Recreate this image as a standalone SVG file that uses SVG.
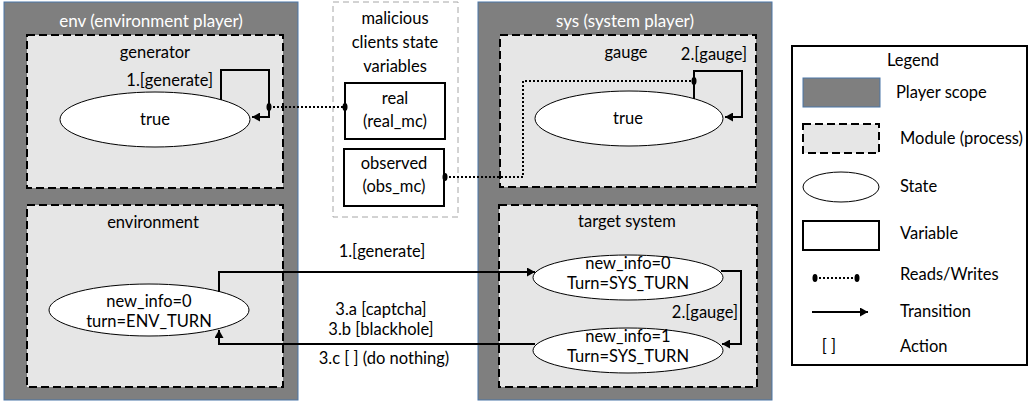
<svg xmlns="http://www.w3.org/2000/svg" width="1029" height="403" viewBox="0 0 1029 403">
  <style>
    text { font-family: Lato, "Liberation Sans", sans-serif; font-size: 16.5px; fill: #000; }
    .title { fill: #fff; font-size: 17px; }
    .mid { text-anchor: middle; }
    .end { text-anchor: end; }
    .player { fill: #7f7f7f; stroke: #4a76a8; stroke-width: 1; }
    .module { fill: #e6e6e6; stroke: #000; stroke-width: 2; stroke-dasharray: 8 4; }
    .group { fill: none; stroke: #a6a6a6; stroke-width: 1; stroke-dasharray: 6 4; }
    .state { fill: #fff; stroke: #000; stroke-width: 1; }
    .var { fill: #fff; stroke: #000; stroke-width: 2; }
    .trans { fill: none; stroke: #000; stroke-width: 2; marker-end: url(#arrow); }
    .rw { fill: none; stroke: #000; stroke-width: 2; stroke-dasharray: 2 2; }
    .dot { fill: #000; }
  </style>
  <defs>
    <marker id="arrow" markerUnits="userSpaceOnUse" markerWidth="9" markerHeight="9" refX="8" refY="4.5" orient="auto">
      <path d="M0,0 L8,4.5 L0,9 z" fill="#000"/>
    </marker>
  </defs>

  <!-- players -->
  <g id="env-player">
    <rect class="player" x="4" y="2" width="294" height="398"/>
    <text class="title mid" x="151" y="27">env (environment player)</text>
  </g>
  <g id="sys-player">
    <rect class="player" x="478" y="2" width="294" height="398"/>
    <text class="title mid" x="625" y="27">sys (system player)</text>
  </g>

  <!-- modules -->
  <g id="generator">
    <rect class="module" x="27" y="35" width="256" height="153"/>
    <text class="mid" x="155" y="58">generator</text>
    <ellipse class="state" cx="155" cy="119.5" rx="95" ry="27.5"/>
    <text class="mid" x="155" y="125">true</text>
  </g>
  <g id="environment">
    <rect class="module" x="27" y="205" width="256" height="182"/>
    <text class="mid" x="153" y="228">environment</text>
    <ellipse class="state" cx="149" cy="310" rx="100" ry="26"/>
    <text class="mid" x="149" y="307">new_info=0</text>
    <text class="mid" x="149" y="327">turn=ENV_TURN</text>
  </g>
  <g id="gauge">
    <rect class="module" x="500" y="35" width="256" height="152"/>
    <text class="mid" x="626" y="58">gauge</text>
    <ellipse class="state" cx="629" cy="118.5" rx="94" ry="27.5"/>
    <text class="mid" x="628" y="124">true</text>
  </g>
  <g id="target-system">
    <rect class="module" x="499" y="205" width="258" height="182"/>
    <text class="mid" x="627" y="227">target system</text>
    <g id="ts-state-0">
      <ellipse class="state" cx="628" cy="277.5" rx="95" ry="22.5"/>
      <text class="mid" x="628" y="269">new_info=0</text>
      <text class="mid" x="628" y="289">Turn=SYS_TURN</text>
    </g>
    <g id="ts-state-1">
      <ellipse class="state" cx="628" cy="350.5" rx="95" ry="22.5"/>
      <text class="mid" x="628" y="342">new_info=1</text>
      <text class="mid" x="628" y="362">Turn=SYS_TURN</text>
    </g>
  </g>

  <!-- shared variables -->
  <g id="mc-variables">
    <rect class="group" x="333" y="2" width="125" height="215"/>
    <text class="mid" x="395" y="24">malicious</text>
    <text class="mid" x="395" y="48">clients state</text>
    <text class="mid" x="395" y="72">variables</text>
    <g id="real-mc">
      <rect class="var" x="345" y="83" width="100" height="56"/>
      <text class="mid" x="395" y="104">real</text>
      <text class="mid" x="395" y="127">(real_mc)</text>
    </g>
    <g id="obs-mc">
      <rect class="var" x="344" y="149" width="100" height="57"/>
      <text class="mid" x="394" y="169">observed</text>
      <text class="mid" x="394" y="192">(obs_mc)</text>
    </g>
  </g>

  <!-- connectors -->
  <g id="connectors">
    <!-- self loop: generate -->
    <polyline class="trans" points="221,100 221,70 269,70 269,117 252,117"/>
    <text class="end" x="213" y="86">1.[generate]</text>
    <!-- self loop: gauge -->
    <polyline class="trans" points="694,99 694,71 742,71 742,117 725,117"/>
    <text class="end" x="747" y="60">2.[gauge]</text>
    <!-- reads / writes -->
    <line class="rw" x1="269" y1="107" x2="345" y2="107"/>
    <ellipse class="dot" cx="269" cy="107" rx="2.5" ry="4"/>
    <ellipse class="dot" cx="345" cy="107" rx="2.5" ry="4"/>
    <polyline class="rw" points="445,177 523,177 523,81 694,81"/>
    <ellipse class="dot" cx="445" cy="177" rx="2.5" ry="4"/>
    <ellipse class="dot" cx="694" cy="81" rx="2.5" ry="4"/>
    <!-- environment to target system -->
    <polyline class="trans" points="219,292 219,272 535,272"/>
    <text class="mid" x="382" y="257">1.[generate]</text>
    <!-- target system internal -->
    <polyline class="trans" points="721,271 741,271 741,344 722,344"/>
    <text class="end" x="738" y="318">2.[gauge]</text>
    <!-- target system back to environment -->
    <polyline class="trans" points="535,344 219,344 219,330"/>
    <text class="mid" x="381" y="315">3.a [captcha]</text>
    <text class="mid" x="381" y="335">3.b [blackhole]</text>
    <text class="mid" x="384" y="364">3.c [ ] (do nothing)</text>
  </g>

  <!-- legend -->
  <g id="legend">
    <rect x="792" y="46" width="235" height="319" fill="#fff" stroke="#000" stroke-width="2"/>
    <text class="mid" x="913" y="66">Legend</text>
    <rect class="player" x="803" y="78" width="77" height="29"/>
    <text x="896" y="98">Player scope</text>
    <rect class="module" x="803" y="124" width="76" height="29"/>
    <text x="900" y="144">Module (process)</text>
    <ellipse class="state" cx="841" cy="187" rx="38" ry="15"/>
    <text x="900" y="192">State</text>
    <rect class="var" x="803" y="221" width="76" height="29"/>
    <text x="900" y="239">Variable</text>
    <line class="rw" x1="815" y1="278" x2="857" y2="278"/>
    <ellipse class="dot" cx="815" cy="278" rx="2.5" ry="4"/>
    <ellipse class="dot" cx="857" cy="278" rx="2.5" ry="4"/>
    <text x="900" y="280">Reads/Writes</text>
    <line class="trans" x1="812" y1="312" x2="868" y2="312"/>
    <text x="900" y="317">Transition</text>
    <text class="mid" x="829" y="352">[ ]</text>
    <text x="900" y="352">Action</text>
  </g>
</svg>
